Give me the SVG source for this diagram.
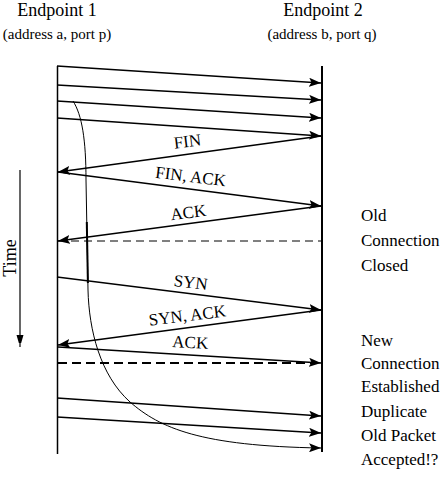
<svg xmlns="http://www.w3.org/2000/svg" width="444" height="486" viewBox="0 0 444 486">
<defs>
<style>
text{font-family:"Liberation Serif","Times New Roman",serif;fill:#000}
.hd{font-size:18px;text-anchor:middle}
.sub{font-size:15px;text-anchor:middle}
.lbl{font-size:17px;text-anchor:middle}
.side{font-size:17px}
.msg{stroke:#000;stroke-width:1.5;fill:none;marker-end:url(#ah)}
.axis{stroke:#000;fill:none}
.dash1{stroke:#000;stroke-width:1;stroke-dasharray:8 5;fill:none}
.dash2{stroke:#000;stroke-width:2;stroke-dasharray:9 5;fill:none}
</style>
<marker id="ah" markerUnits="userSpaceOnUse" markerWidth="13" markerHeight="9" refX="12" refY="4.5" orient="auto">
<path d="M0,0 L12,4.5 L0,9 L2.5,4.5 z" fill="#000"/>
</marker>
<marker id="ta" markerUnits="userSpaceOnUse" markerWidth="8" markerHeight="14" refX="12" refY="3.5" orient="auto">
<path d="M0,0 L12,3.5 L0,7 z" fill="#000"/>
</marker>
</defs>
<rect width="444" height="486" fill="#fff"/>

<g id="endpoint1">
<text class="hd" x="57" y="16">Endpoint 1</text>
<text class="sub" x="57" y="39">(address a, port p)</text>
<line class="axis" x1="57.5" y1="66" x2="57.5" y2="454" stroke-width="1.5"/>
</g>

<g id="endpoint2">
<text class="hd" x="323" y="16">Endpoint 2</text>
<text class="sub" x="322" y="39">(address b, port q)</text>
<line class="axis" x1="322" y1="66" x2="322" y2="452" stroke-width="2"/>
</g>

<g id="time">
<line x1="20" y1="170" x2="20" y2="347" stroke="#000" stroke-width="1.2" marker-end="url(#ta)"/>
<text transform="translate(16,258) rotate(-90)" x="0" y="0" style="font-size:18px;text-anchor:middle">Time</text>
</g>

<g id="connectors">
<line class="msg" x1="57" y1="66" x2="321" y2="83"/>
<line class="msg" x1="57" y1="85" x2="321" y2="100"/>
<line class="msg" x1="57" y1="101" x2="321" y2="118"/>
<line class="msg" x1="57" y1="118" x2="321" y2="136"/>
<line class="msg" x1="321" y1="136" x2="58" y2="172"/>
<line class="msg" x1="58" y1="172" x2="321" y2="206"/>
<line class="msg" x1="321" y1="206" x2="58" y2="241"/>
<line class="dash1" x1="58" y1="241" x2="321" y2="241"/>
<line class="msg" x1="57" y1="277" x2="321" y2="310"/>
<line class="msg" x1="321" y1="310" x2="58" y2="345"/>
<line class="msg" x1="58" y1="347" x2="321" y2="363"/>
<line class="dash2" x1="58" y1="363" x2="312" y2="363"/>
<line class="msg" x1="57" y1="398" x2="321" y2="416"/>
<line class="msg" x1="57" y1="417" x2="321" y2="433"/>
<path d="M73,101 C82,115 86,140 86,180 L88,290 C89,330 100,375 130,402 C160,428 200,446 321,448" fill="none" stroke="#000" stroke-width="1" marker-end="url(#ah)"/>
<line x1="86.8" y1="222" x2="87.9" y2="283" stroke="#000" stroke-width="2"/>
</g>

<g id="labels">
<text class="lbl" transform="translate(188,147) rotate(-7)">FIN</text>
<text class="lbl" transform="translate(190,182) rotate(7)">FIN, ACK</text>
<text class="lbl" transform="translate(189,218) rotate(-7)">ACK</text>
<text class="lbl" transform="translate(190,288) rotate(7)">SYN</text>
<text class="lbl" transform="translate(188,321) rotate(-7)">SYN, ACK</text>
<text class="lbl" transform="translate(190,348) rotate(3)">ACK</text>
</g>

<g id="state-old-closed">
<text class="side" x="361" y="221">Old</text>
<text class="side" x="361" y="246">Connection</text>
<text class="side" x="361" y="271">Closed</text>
</g>
<g id="state-new-established">
<text class="side" x="361" y="346">New</text>
<text class="side" x="361" y="369">Connection</text>
<text class="side" x="361" y="392">Established</text>
</g>
<g id="state-duplicate">
<text class="side" x="361" y="417">Duplicate</text>
<text class="side" x="361" y="441">Old Packet</text>
<text class="side" x="361" y="465">Accepted!?</text>
</g>
</svg>
